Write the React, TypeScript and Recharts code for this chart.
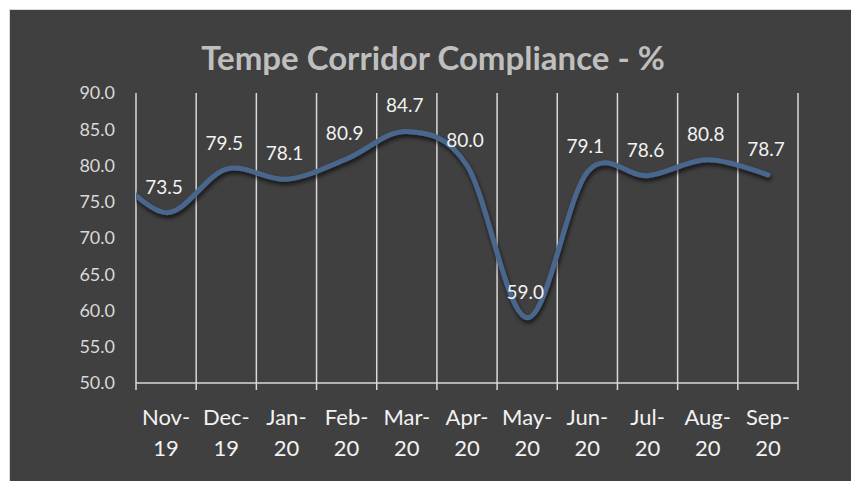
import React from 'react';
import { LineChart, Line, XAxis, YAxis, CartesianGrid, LabelList } from 'recharts';

const title = 'Tempe Corridor Compliance - %';
const months = ['Nov-19', 'Dec-19', 'Jan-20', 'Feb-20', 'Mar-20', 'Apr-20', 'May-20', 'Jun-20', 'Jul-20', 'Aug-20', 'Sep-20'];
const compliance = [73.5, 79.5, 78.1, 80.9, 84.7, 80.0, 59.0, 79.1, 78.6, 80.8, 78.7];
// Oct-19 sits just left of the visible axis; only the lead-in of its segment shows.
const priorMonthValue = 80.0;
const yTicks = [50, 55, 60, 65, 70, 75, 80, 85, 90];

const data = [
  { idx: 0, value: priorMonthValue, label: null as number | null },
  ...months.map((m, i) => ({ idx: i + 1, value: compliance[i], label: compliance[i] as number | null })),
];
const labelTicks = months.map((_, i) => i + 1);
const boundaryTicks = [0.5, ...months.map((_, i) => i + 1.5)];
const xDomain = [0.5, months.length + 0.5];

const FONT = 'Lato, "Open Sans", sans-serif';
const GRID = '#d9d9d9';

// Excel-style smoothing (cardinal spline, tension 0)
class ExcelSmooth {
  _context: any;
  _k = 1 / 6;
  _line: any;
  _point = 0;
  _x0 = NaN; _x1 = NaN; _x2 = NaN; _y0 = NaN; _y1 = NaN; _y2 = NaN;
  constructor(context: any) { this._context = context; }
  areaStart() { this._line = 0; }
  areaEnd() { this._line = NaN; }
  lineStart() {
    this._x0 = this._x1 = this._x2 = this._y0 = this._y1 = this._y2 = NaN;
    this._point = 0;
  }
  lineEnd() {
    switch (this._point) {
      case 2: this._context.lineTo(this._x2, this._y2); break;
      case 3: this.seg(this._x1, this._y1); break;
    }
    if (this._line || (this._line !== 0 && this._point === 1)) this._context.closePath();
    this._line = 1 - this._line;
  }
  seg(x: number, y: number) {
    this._context.bezierCurveTo(
      this._x1 + this._k * (this._x2 - this._x0),
      this._y1 + this._k * (this._y2 - this._y0),
      this._x2 + this._k * (this._x1 - x),
      this._y2 + this._k * (this._y1 - y),
      this._x2,
      this._y2
    );
  }
  point(x: number, y: number) {
    x = +x; y = +y;
    switch (this._point) {
      case 0: this._point = 1; if (this._line) this._context.lineTo(x, y); else this._context.moveTo(x, y); break;
      case 1: this._point = 2; this._x1 = x; this._y1 = y; break;
      case 2: this._point = 3; this.seg(x, y); break;
      default: this.seg(x, y); break;
    }
    this._x0 = this._x1; this._x1 = this._x2; this._x2 = x;
    this._y0 = this._y1; this._y1 = this._y2; this._y2 = y;
  }
}
const excelSmooth: any = (context: any) => new ExcelSmooth(context);

const MonthTick = (props: any) => {
  const { x, y, payload } = props;
  const name = months[Math.round(payload.value) - 1] ?? '';
  const parts = name.split('-');
  return (
    <text x={x} y={y} textAnchor="middle" fill="#f2f2f2" fontSize={22} fontFamily={FONT}>
      <tspan x={x} dy={34}>{parts[0]}-</tspan>
      <tspan x={x} dy={31}>{parts[1]}</tspan>
    </text>
  );
};

const ValueLabel = (props: any) => {
  const { value } = props;
  if (value == null) return null;
  const x = props.x ?? props.viewBox?.x;
  const y = props.y ?? props.viewBox?.y;
  return (
    <text x={x - 2} y={y - 19} textAnchor="middle" fill="#f2f2f2" fontSize={19} fontFamily={FONT}>
      {Number(value).toFixed(1)}
    </text>
  );
};

export default function App() {
  return (
    <div
      style={{
        position: 'fixed',
        left: 9,
        top: 9,
        width: 844,
        height: 474,
        boxSizing: 'border-box',
        border: '1px solid #d9d9d9',
        background: '#404040',
      }}
    >
      <LineChart width={842} height={472} data={data} margin={{ top: 83, right: 54, left: 0, bottom: 0 }}>
        <defs>
          <filter id="lineShadow" x="-5%" y="-20%" width="110%" height="140%">
            <feDropShadow dx="1" dy="3" stdDeviation="2" floodColor="#000000" floodOpacity="0.7" />
          </filter>
        </defs>
        <text x={423} y={60} textAnchor="middle" fill="#bfbfbf" fontSize={33} fontWeight="bold" fontFamily={FONT}>
          {title}
        </text>
        <CartesianGrid vertical horizontal={false} stroke={GRID} strokeWidth={1.5} />
        <XAxis
          type="number"
          dataKey="idx"
          domain={xDomain}
          ticks={boundaryTicks}
          allowDataOverflow
          height={8}
          tickSize={7}
          tickFormatter={() => ''}
          axisLine={{ stroke: GRID, strokeWidth: 1.5 }}
          tickLine={{ stroke: GRID, strokeWidth: 1.5 }}
        />
        <XAxis
          xAxisId="lbl"
          type="number"
          dataKey="idx"
          domain={xDomain}
          ticks={labelTicks}
          allowDataOverflow
          height={91}
          axisLine={false}
          tickLine={false}
          tickSize={0}
          tickMargin={0}
          interval={0}
          tick={<MonthTick />}
        />
        <YAxis
          type="number"
          domain={[50, 90]}
          ticks={yTicks}
          width={126}
          axisLine={false}
          tickLine={false}
          tickSize={0}
          tickMargin={21}
          tickFormatter={(v: number) => v.toFixed(1)}
          tick={{ fill: '#d9d9d9', fontSize: 18, fontFamily: FONT }}
          allowDataOverflow
        />
        <Line
          dataKey="value"
          type={excelSmooth}
          stroke="#4a668c"
          strokeWidth={5}
          strokeLinecap="round"
          dot={false}
          activeDot={false}
          isAnimationActive={false}
          style={{ filter: 'url(#lineShadow)' }}
        >
          <LabelList dataKey="label" content={<ValueLabel />} />
        </Line>
      </LineChart>
    </div>
  );
}
